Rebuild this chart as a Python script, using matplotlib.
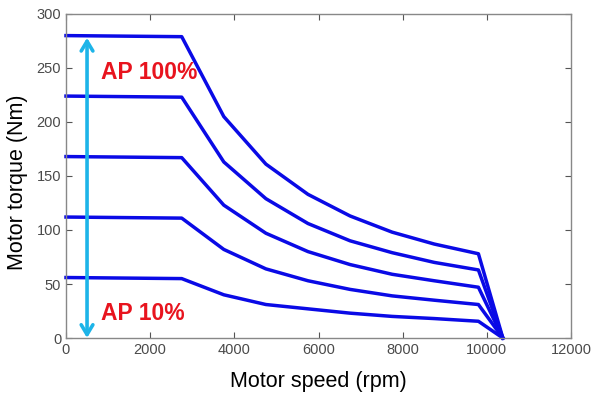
import matplotlib
matplotlib.use("Agg")
import matplotlib.pyplot as plt

speed = [0, 2750, 3750, 4750, 5750, 6750, 7750, 8750, 9800, 10380]
torque_100 = [280, 279, 205, 161, 133, 113, 98, 87, 78, 0]
torque_80 = [224, 223, 163, 129, 106, 90, 79, 70, 63, 0]
torque_60 = [168, 167, 123, 97, 80, 68, 59, 53, 47, 0]
torque_40 = [112, 111, 82, 64, 53, 45, 39, 35, 31, 0]
torque_20 = [56, 55, 40, 31, 27, 23, 20, 18, 15.5, 0]
curves = [torque_100, torque_80, torque_60, torque_40, torque_20]

xticks = [0, 2000, 4000, 6000, 8000, 10000, 12000]
yticks = [0, 50, 100, 150, 200, 250, 300]

plt.rcParams['font.family'] = ['Liberation Sans', 'DejaVu Sans']

fig = plt.figure(figsize=(5.91, 3.96), dpi=100)
ax = fig.add_axes([66/591, 1-338/396, (571-66)/591, (338-14)/396])

for c in curves:
    ax.plot(speed, c, color='#0a0ae6', lw=2.5, solid_joinstyle='round', clip_on=False)

ax.annotate('', xy=(500, 278), xytext=(500, 0),
            arrowprops=dict(arrowstyle='<->, head_length=0.5, head_width=0.3',
                            color='#1db4e8', lw=2.6,
                            mutation_scale=14, shrinkA=0, shrinkB=0))
ax.text(820, 246, 'AP 100%', color='#e8141e', fontsize=16.5, fontweight='bold', va='center')
ax.text(820, 23, 'AP 10%', color='#e8141e', fontsize=16.5, fontweight='bold', va='center')

ax.set_xlim(0, 12000)
ax.set_ylim(0, 300)
ax.set_xticks(xticks)
ax.set_yticks(yticks)
ax.tick_params(direction='in', top=True, right=True, length=4, width=0.8,
               colors='#555555', labelsize=10.5, labelcolor='#4a4a4a')
for s in ax.spines.values():
    s.set_color('#888888')
    s.set_linewidth(1)
ax.set_xlabel('Motor speed (rpm)', fontsize=15.5, color='black', labelpad=10)
ax.set_ylabel('Motor torque (Nm)', fontsize=15.5, color='black')
ax.yaxis.set_label_coords(-0.075, 0.48)

fig.savefig('out.png', dpi=100)
